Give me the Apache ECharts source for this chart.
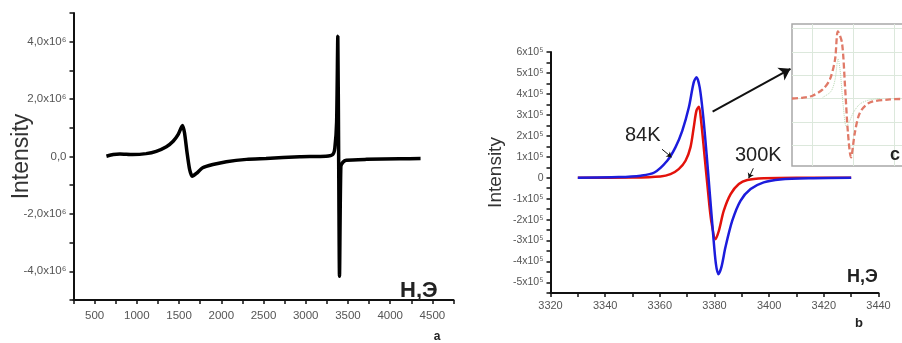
<!DOCTYPE html>
<html>
<head>
<meta charset="utf-8">
<script src="https://cdn.jsdelivr.net/npm/echarts@6/dist/echarts.min.js"></script>
<style>html,body{margin:0;padding:0;background:#fff}#c{width:902px;height:343px}</style>
</head>
<body>
<div id="c"></div>
<script>
// Panel a: field H (Oe) and intensity (x10^6)
const aField = [640, 720, 800, 950, 1110, 1230, 1350, 1430, 1490, 1540, 1565, 1595, 1625, 1655, 1705, 1780, 1900, 2060, 2300, 2530, 2930, 3240, 3320, 3345, 3366, 3380, 3390, 3400, 3416, 3440, 3480, 3720, 4110, 4360];
const aInt = [0.01, 0.07, 0.09, 0.07, 0.10, 0.18, 0.34, 0.53, 0.77, 1.08, 0.82, 0.13, -0.45, -0.69, -0.59, -0.39, -0.28, -0.18, -0.10, -0.07, -0.01, 0.01, 0.07, 0.30, 1.2, 4.19, 0.0, -4.17, -0.35, -0.2, -0.13, -0.10, -0.08, -0.07];

// Panel b: field H (Oe) and intensity (x10^5)
const bField84 = [3330, 3345, 3353, 3358, 3362.7, 3365.7, 3368.2, 3370.6, 3372.4, 3373.4, 3374.6, 3375.9, 3377.1, 3378.3, 3379.5, 3380.5, 3381.4, 3382.5, 3384, 3386.5, 3389.5, 3393.2, 3398, 3404, 3416, 3430];
const bInt84 = [0, 0.03, 0.1, 0.25, 0.81, 1.45, 2.24, 3.35, 4.55, 4.79, 4.3, 2.88, 1.14, -0.78, -2.7, -4.1, -4.6, -4.28, -3.32, -2.05, -1.1, -0.54, -0.22, -0.08, -0.02, 0];
const bField300 = [3330, 3350, 3360.2, 3363.9, 3366.9, 3369.4, 3371.2, 3372.4, 3373.4, 3374.3, 3375.1, 3376.3, 3377.6, 3378.8, 3380.4, 3381.6, 3383.4, 3385.9, 3388.9, 3392, 3398, 3410, 3430];
const bInt300 = [0, 0.01, 0.06, 0.17, 0.41, 0.81, 1.45, 2.4, 3.2, 3.39, 2.72, 1.13, -0.62, -2.05, -2.93, -2.53, -1.57, -0.78, -0.3, -0.11, -0.03, 0, 0];

// Inset c (arbitrary units)
const cX = [0, 0.5, 1.0, 1.5, 1.85, 2.1, 2.24, 2.44, 2.59, 2.73, 2.88, 3.07, 3.32, 3.8, 4.78, 5.37];
const cY = [0, 0.03, 0.12, 0.39, 0.82, 1.67, 2.88, 2.4, 0.5, -1.46, -2.53, -1.46, -0.6, -0.17, -0.04, -0.02];
const gX = [1.5, 1.9, 2.1, 2.25, 2.35, 2.5, 2.65, 2.8, 3.0, 3.3, 3.7, 4.3];
const gY = [0.05, 0.3, 0.8, 1.7, 1.2, -0.3, -1.2, -1.0, -0.6, -0.25, -0.08, 0];
const cGridX = [1, 3, 5];
const cGridY = [-2, -1, 0, 1, 2, 3];

const zip = (xs, ys) => xs.map((x, i) => [x, ys[i]]);
const FONT = 'Liberation Sans, Arial, sans-serif';
const near = (v, k) => Math.abs(v / k - Math.round(v / k)) < 1e-6;
const axLine = { onZero: false, lineStyle: { color: '#111', width: 2 } };
const axTick = { length: 4, lineStyle: { color: '#111', width: 1.5 } };

const chart = echarts.init(document.getElementById('c'), null, { renderer: 'canvas' });
chart.setOption({
  animation: false,
  backgroundColor: '#fff',
  grid: [
    { left: 73.5, top: 13, width: 380, height: 287, containLabel: false, outerBoundsMode: 'none' },
    { left: 550.5, top: 52, width: 328, height: 241, containLabel: false, outerBoundsMode: 'none' },
    { left: 792, top: 24, width: 110, height: 142, show: false, containLabel: false, outerBoundsMode: 'none' }
  ],
  xAxis: [
    { gridIndex: 0, type: 'value', min: 250, max: 4750, interval: 250,
      axisLine: axLine, axisTick: axTick, splitLine: { show: false },
      axisLabel: { margin: 10, color: '#555', fontSize: 11.5, fontFamily: FONT,
        formatter: v => (near(v, 500) ? String(Math.round(v)) : '') } },
    { gridIndex: 1, type: 'value', min: 3320, max: 3440, interval: 10,
      axisLine: axLine, axisTick: axTick, splitLine: { show: false },
      axisLabel: { margin: 7, color: '#555', fontSize: 11, fontFamily: FONT,
        formatter: v => (near(v, 20) ? String(Math.round(v)) : '') } },
    { gridIndex: 2, type: 'value', min: 0, max: 5.37,
      axisLine: { show: false }, axisTick: { show: false }, axisLabel: { show: false }, splitLine: { show: false } }
  ],
  yAxis: [
    { gridIndex: 0, type: 'value', min: -5, max: 5, interval: 1,
      name: 'Intensity', nameLocation: 'middle', nameGap: 40, nameRotate: 90, nameMoveOverlap: false,
      nameTextStyle: { fontSize: 23, color: '#333', fontFamily: FONT },
      axisLine: axLine, axisTick: axTick, splitLine: { show: false },
      axisLabel: { margin: 7, color: '#555', fontSize: 11.5, fontFamily: FONT, formatter: v => {
        const k = Math.round(v);
        if (k % 2 !== 0) return '';
        if (k === 0) return '0,0';
        return k.toFixed(1).replace('.', ',') + 'x10\u2076';
      } } },
    { gridIndex: 1, type: 'value', min: -5.5, max: 6, interval: 0.5,
      name: 'Intensity', nameLocation: 'middle', nameGap: 45, nameRotate: 90, nameMoveOverlap: false,
      nameTextStyle: { fontSize: 19, color: '#333', fontFamily: FONT },
      axisLine: axLine, axisTick: axTick, splitLine: { show: false },
      axisLabel: { margin: 7, color: '#555', fontSize: 10.5, fontFamily: FONT, formatter: v => {
        if (!near(v, 1)) return '';
        const k = Math.round(v);
        return k === 0 ? '0' : k + 'x10\u2075';
      } } },
    { gridIndex: 2, type: 'value', min: -2.9, max: 3.2,
      axisLine: { show: false }, axisTick: { show: false }, axisLabel: { show: false }, splitLine: { show: false } }
  ],
  series: [
    { type: 'line', xAxisIndex: 0, yAxisIndex: 0, data: zip(aField, aInt), showSymbol: false, smooth: 0.2,
      lineStyle: { color: '#000', width: 3.5 } },
    { type: 'line', xAxisIndex: 1, yAxisIndex: 1, data: zip(bField300, bInt300), showSymbol: false, smooth: 0.3,
      lineStyle: { color: '#e3120b', width: 2.5 } },
    { type: 'line', xAxisIndex: 1, yAxisIndex: 1, data: zip(bField84, bInt84), showSymbol: false, smooth: 0.3,
      lineStyle: { color: '#1c1cdc', width: 2.5 }, z: 3,
      markLine: { silent: true, animation: false, label: { show: false },
        data: [
          [{ coord: [3379.3, 3.15], symbol: 'none' }, { coord: [3407.8, 5.2], symbol: 'arrow', symbolSize: 11, lineStyle: { color: '#111', width: 2, type: 'solid' } }],
          [{ coord: [3360.8, 1.36], symbol: 'none' }, { coord: [3364.3, 0.98], symbol: 'arrow', symbolSize: 5, lineStyle: { color: '#111', width: 1, type: 'solid' } }],
          [{ coord: [3394.2, 0.45], symbol: 'none' }, { coord: [3392.5, -0.02], symbol: 'arrow', symbolSize: 5, lineStyle: { color: '#111', width: 1, type: 'solid' } }]
        ] } },
    { type: 'line', xAxisIndex: 2, yAxisIndex: 2, data: [], z: 6,
      markLine: { silent: true, animation: false, symbol: ['none', 'none'], label: { show: false },
        lineStyle: { color: '#dce8dc', width: 1, type: 'solid' },
        data: cGridX.map(v => ({ xAxis: v })).concat(cGridY.map(v => ({ yAxis: v }))) } },
    { type: 'line', xAxisIndex: 2, yAxisIndex: 2, data: zip(gX, gY), showSymbol: false, smooth: 0.3, z: 7,
      lineStyle: { color: '#b9d9b4', width: 1, type: 'dotted' } },
    { type: 'line', xAxisIndex: 2, yAxisIndex: 2, data: zip(cX, cY), showSymbol: false, smooth: 0.3, z: 8,
      lineStyle: { color: '#e07a68', width: 2.3, type: [6, 3] } }
  ],
  graphic: [
    { type: 'rect', z: 1, shape: { x: 792, y: 24, width: 140, height: 142 }, style: { fill: '#fff', stroke: '#a8a8a8', lineWidth: 1.5 } },
    { type: 'text', z: 100, style: { text: 'H,Э', x: 400, y: 291, font: 'bold 22px ' + FONT, fill: '#222', textVerticalAlign: 'middle', verticalAlign: 'middle' } },
    { type: 'text', z: 100, style: { text: 'a', x: 437, y: 337, font: 'bold 12px ' + FONT, fill: '#222', textAlign: 'center', align: 'center', textVerticalAlign: 'middle', verticalAlign: 'middle' } },
    { type: 'text', z: 100, style: { text: 'H,Э', x: 847, y: 277, font: 'bold 18px ' + FONT, fill: '#222', textVerticalAlign: 'middle', verticalAlign: 'middle' } },
    { type: 'text', z: 100, style: { text: 'b', x: 859, y: 323, font: 'bold 13px ' + FONT, fill: '#222', textAlign: 'center', align: 'center', textVerticalAlign: 'middle', verticalAlign: 'middle' } },
    { type: 'text', z: 100, style: { text: '84K', x: 625, y: 135, font: '20px ' + FONT, fill: '#222', textVerticalAlign: 'middle', verticalAlign: 'middle' } },
    { type: 'text', z: 100, style: { text: '300K', x: 735, y: 155, font: '20px ' + FONT, fill: '#222', textVerticalAlign: 'middle', verticalAlign: 'middle' } },
    { type: 'text', z: 100, style: { text: 'c', x: 890, y: 155, font: 'bold 18px ' + FONT, fill: '#222', textVerticalAlign: 'middle', verticalAlign: 'middle' } }
  ]
});
</script>
</body>
</html>
